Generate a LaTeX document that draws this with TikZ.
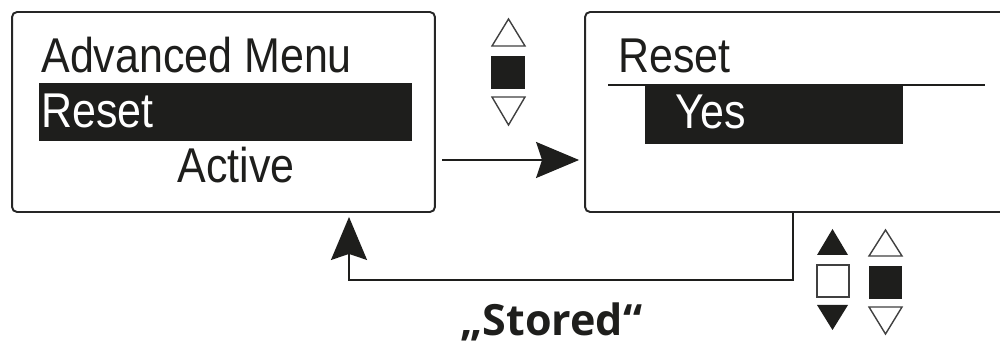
\documentclass[tikz,border=0pt]{standalone}
\usepackage{fontspec}
\newfontfamily\lcdfont{Liberation Sans}[FakeStretch=0.88]
\newfontfamily\labelfont{Open Sans}
\usetikzlibrary{arrows.meta,positioning}
\definecolor{lcdblack}{HTML}{1E1E1C}
\tikzset{
  menubox/.style={draw=black!85,line width=1.1pt,rounded corners=0.1cm,
    minimum width=8.46cm,minimum height=4cm,inner sep=0pt},
  lcdtext/.style={font=\lcdfont\fontsize{27.8pt}{30pt}\selectfont,
    inner sep=0pt,anchor=base west,text=lcdblack},
  selbar/.style={fill=lcdblack},
  flowarrow/.style={-{Stealth[length=0.86cm,width=0.72cm,inset=0.12cm]},
    line width=1.1pt,draw=lcdblack},
  keyopen/.style={draw=black!75,line width=0.8pt,fill=white},
  keyfilled/.style={fill=lcdblack},
  captiontext/.style={font=\labelfont\bfseries\fontsize{24.5pt}{27pt}\selectfont,
    inner sep=0pt,anchor=base west,text=lcdblack}
}

\begin{document}
\begin{tikzpicture}[x=0.02cm,y=-0.02cm]
  \clip (0,0) rectangle (1000,347);
  % left screen
  \node[menubox] (advmenu) at (223.5,112) {};
  \node[lcdtext] (advtitle) at (41,73) {Advanced Menu};
  \fill[selbar] (39,83) rectangle (412,141);
  \node[lcdtext,text=white] (advreset) at (41,128) {Reset};
  \node[lcdtext] (advactive) at (177,183) {Active};
  % right screen
  \node[menubox,minimum width=8.5cm] (resetmenu) at (797.5,112) {};
  \node[lcdtext] (resettitle) at (618,73) {Reset};
  \draw[line width=1.1pt,lcdblack] (608,85) -- (985,85);
  \fill[selbar] (645,85) rectangle (903,144);
  \node[lcdtext,text=white] (resetyes) at (675,129) {Yes};
  % connectors
  \coordinate (fwdstart) at (442,160);
  \draw[flowarrow,shorten >=0.1cm] (fwdstart) -- (fwdstart -| resetmenu.west);
  \coordinate (retdrop) at (793,280);
  \coordinate (retrise) at (349,280);
  \draw[flowarrow,shorten >=0.08cm] (resetmenu.south -| retdrop) -- (retdrop)
    -- (retrise) -- (advmenu.south -| retrise);
  % keys
  \draw[keyopen] (492,46) -- (508.5,19) -- (525,46) -- cycle;
  \fill[keyfilled] (491,56) rectangle (525,89);
  \draw[keyopen] (492,97) -- (525,97) -- (508.5,125) -- cycle;
  \fill[keyfilled] (817,255) -- (832.5,229) -- (848,255) -- cycle;
  \draw[keyopen] (817,265) rectangle (849,297);
  \fill[keyfilled] (817,305) -- (848,305) -- (832.5,330) -- cycle;
  \draw[keyopen] (869,256) -- (885.5,230) -- (902,256) -- cycle;
  \fill[keyfilled] (869,266) rectangle (902,299);
  \draw[keyopen] (869,307) -- (902,307) -- (885.5,334) -- cycle;
  % label
  \node[captiontext] (storedlabel) at (460,336) {„Stored“};
\end{tikzpicture}
\end{document}
